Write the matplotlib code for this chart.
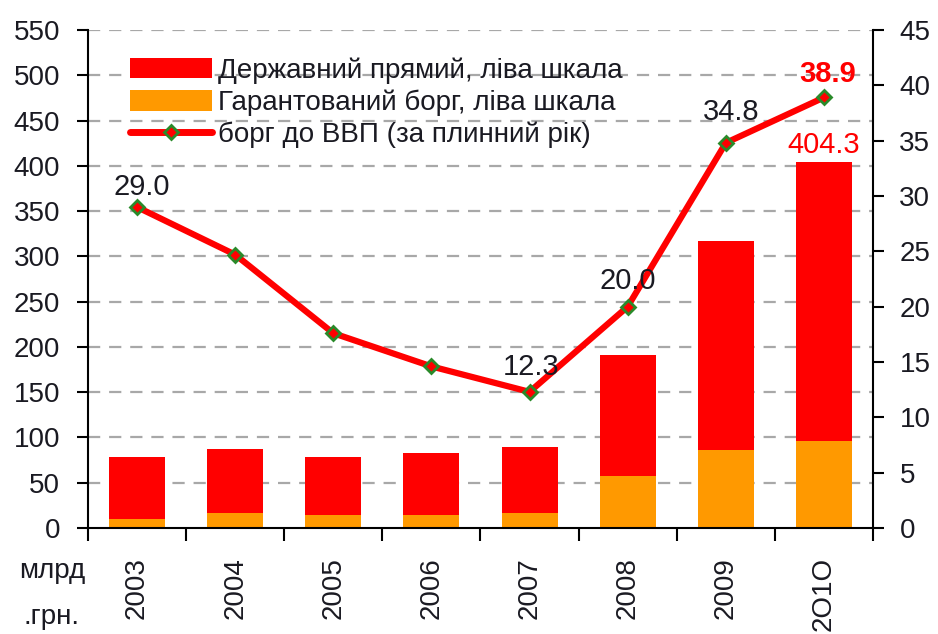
import matplotlib
matplotlib.use("Agg")
import matplotlib.pyplot as plt
import numpy as np
from matplotlib.lines import Line2D
from matplotlib.patches import Patch

plt.rcParams["font.family"] = ["Liberation Sans", "DejaVu Sans"]

years = ["2003", "2004", "2005", "2006", "2007", "2008", "2009", "2O1O"]
guaranteed = [9.6, 16.2, 14.0, 14.0, 16.2, 57.4, 86.5, 95.6]
total = [78.4, 87.2, 78.4, 82.8, 89.5, 190.6, 317.0, 404.3]
debt_to_gdp = [29.0, 24.7, 17.6, 14.6, 12.3, 20.0, 34.8, 38.9]

legend_labels = [
    "Державний прямий, ліва шкала",
    "Гарантований борг, ліва шкала",
    "борг до ВВП (за плинний рік)",
]

direct = [t - g for t, g in zip(total, guaranteed)]

RED = "#ff0000"
ORANGE = "#ff9900"
TEXT = "#1a1a22"
FS = 20
LABEL_FS = 21

fig = plt.figure(figsize=(9.38, 6.34), dpi=100)
ax = fig.add_axes([0.0938, 0.1672, 0.8369, 0.7855])
ax2 = ax.twinx()

x = np.arange(len(years))
ax.bar(x, guaranteed, width=0.57, color=ORANGE, zorder=2)
ax.bar(x, direct, bottom=guaranteed, width=0.57, color=RED, zorder=2)

ax.set_xlim(-0.5, len(years) - 0.5)
ax.set_ylim(0, 550)
ax.set_yticks(np.arange(0, 551, 50))
for value in range(50, 551, 50):
    ax.axhline(value, color="#a8a8a8", lw=1.6, linestyle=(0, (5.5, 4)), zorder=1)

ax2.set_ylim(0, 45)
ax2.set_yticks(np.arange(0, 46, 5))
ax2.plot(x, debt_to_gdp, color=RED, lw=4.5, marker="D", markersize=7,
         markerfacecolor=RED, markeredgecolor="#2a8a2a", markeredgewidth=2,
         solid_capstyle="round", zorder=5)

# x axis: ticks on category boundaries, year labels under each bar
ax.set_xticks(np.arange(-0.5, len(years), 1.0))
ax.set_xticklabels([])
ax.set_xticks(x, labels=years, minor=True)
ax.tick_params(axis="x", which="major", direction="out", length=9, width=1.5)
ax.tick_params(axis="x", which="minor", length=0, pad=21, labelsize=FS,
               labelcolor=TEXT, rotation=90)
for label in ax.get_xticklabels(minor=True):
    label.set_va("top")

ax.tick_params(axis="y", direction="out", length=8, width=1.5, pad=12,
               labelsize=FS, labelcolor=TEXT)
ax2.tick_params(axis="y", direction="out", length=8, width=1.5, pad=11,
                labelsize=FS, labelcolor=TEXT)

for axis in (ax, ax2):
    axis.spines["top"].set_visible(False)
    for side in ("left", "right", "bottom"):
        axis.spines[side].set_linewidth(1.5)
ax.spines["right"].set_visible(False)
ax2.spines["left"].set_visible(False)
ax2.spines["bottom"].set_visible(False)

fig.text(0.056, 0.099, "млрд", fontsize=FS, color=TEXT, ha="center", va="center")
fig.text(0.055, 0.027, ".грн.", fontsize=FS, color=TEXT, ha="center", va="center")

# data labels
label_offsets = {0: (5, 20), 4: (2, 25), 5: (0, 26), 6: (5, 31)}
for i, (dx, dy) in label_offsets.items():
    ax2.annotate(f"{debt_to_gdp[i]:.1f}", (x[i], debt_to_gdp[i]),
                 xytext=(dx, dy), textcoords="offset pixels",
                 ha="center", va="center", fontsize=LABEL_FS, color=TEXT, zorder=6)
ax2.annotate(f"{debt_to_gdp[-1]:.1f}", (x[-1], debt_to_gdp[-1]),
             xytext=(4, 23), textcoords="offset pixels", ha="center",
             va="center", fontsize=LABEL_FS, color=RED, fontweight="bold", zorder=6)
ax.annotate(f"{total[-1]:.1f}", (x[-1], total[-1]), xytext=(0, 17),
            textcoords="offset pixels", ha="center", va="center",
            fontsize=LABEL_FS, color=RED, zorder=6)

handles = [
    Patch(facecolor=RED, edgecolor="none"),
    Patch(facecolor=ORANGE, edgecolor="none"),
    Line2D([], [], color=RED, lw=5, marker="D", markersize=7,
           markerfacecolor=RED, markeredgecolor="#2a8a2a", markeredgewidth=2,
           solid_capstyle="round"),
]
ax2.legend(handles, legend_labels, loc="upper left",
           bbox_to_anchor=(0.053, 0.945), frameon=False, fontsize=FS,
           handlelength=2.95, handleheight=0.76, handletextpad=0.25,
           labelspacing=0.2, labelcolor=TEXT, borderaxespad=0, borderpad=0)

fig.savefig("out.png", dpi=100)
